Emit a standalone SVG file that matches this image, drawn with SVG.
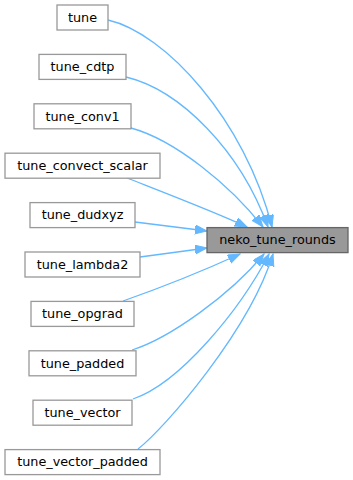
<svg xmlns="http://www.w3.org/2000/svg" width="353" height="480" viewBox="0 0 353 480">
<style>
.n rect{fill:#ffffff;stroke:#999999;stroke-width:1.3}
.t rect{fill:#999999;stroke:#666666;stroke-width:1.3}
text{font-family:"DejaVu Sans","Liberation Sans",sans-serif;font-size:12.8px;fill:#000000;text-anchor:middle}
.e path{fill:none;stroke:#63b8ff;stroke-width:1.3;marker-end:url(#ah)}
</style>
<defs>
<marker id="ah" markerUnits="userSpaceOnUse" markerWidth="13" markerHeight="10" refX="12" refY="4.5" orient="auto">
<path d="M0,0 L12,4.5 L0,9 z" fill="#63b8ff" stroke="#63b8ff" stroke-width="1"/>
</marker>
</defs>
<rect width="353" height="480" fill="#ffffff"/>
<g class="e" id="edges">
<path d="M108,20 C165,33 245,120 272,227"/>
<path d="M126,77 C180,90 240,150 268,227"/>
<path d="M131,128 C175,140 230,185 263,227"/>
<path d="M127,178 C160,191 215,212 247,227"/>
<path d="M135,222 L207,231"/>
<path d="M140,257 L207,248"/>
<path d="M123,301 C160,288 205,270 240,254"/>
<path d="M132,350 C170,338 230,295 264,254"/>
<path d="M133,399 C180,383 240,310 269,254"/>
<path d="M138,449 C165,428 250,330 273,254"/>
</g>
<g class="t" id="neko_tune_rounds"><rect x="207" y="227.6" width="141" height="25"/><text x="277.5" y="244.4">neko_tune_rounds</text></g>
<g class="n" id="tune"><rect x="57" y="5" width="51" height="25"/><text x="82.5" y="21.8">tune</text></g>
<g class="n" id="tune_cdtp"><rect x="39" y="54.4" width="87" height="25"/><text x="82.5" y="71.2">tune_cdtp</text></g>
<g class="n" id="tune_conv1"><rect x="34" y="103.8" width="97" height="25"/><text x="82.5" y="120.6">tune_conv1</text></g>
<g class="n" id="tune_convect_scalar"><rect x="5" y="153.2" width="155" height="25"/><text x="82.5" y="170">tune_convect_scalar</text></g>
<g class="n" id="tune_dudxyz"><rect x="30" y="202.6" width="105" height="25"/><text x="82.5" y="219.4">tune_dudxyz</text></g>
<g class="n" id="tune_lambda2"><rect x="25" y="252" width="115" height="25"/><text x="82.5" y="268.8">tune_lambda2</text></g>
<g class="n" id="tune_opgrad"><rect x="31" y="301.4" width="103" height="25"/><text x="82.5" y="318.2">tune_opgrad</text></g>
<g class="n" id="tune_padded"><rect x="29" y="350.8" width="107" height="25"/><text x="82.5" y="367.6">tune_padded</text></g>
<g class="n" id="tune_vector"><rect x="33" y="400.2" width="99" height="25"/><text x="82.5" y="417">tune_vector</text></g>
<g class="n" id="tune_vector_padded"><rect x="5" y="449.6" width="155" height="25"/><text x="82.5" y="466.4">tune_vector_padded</text></g>
</svg>
